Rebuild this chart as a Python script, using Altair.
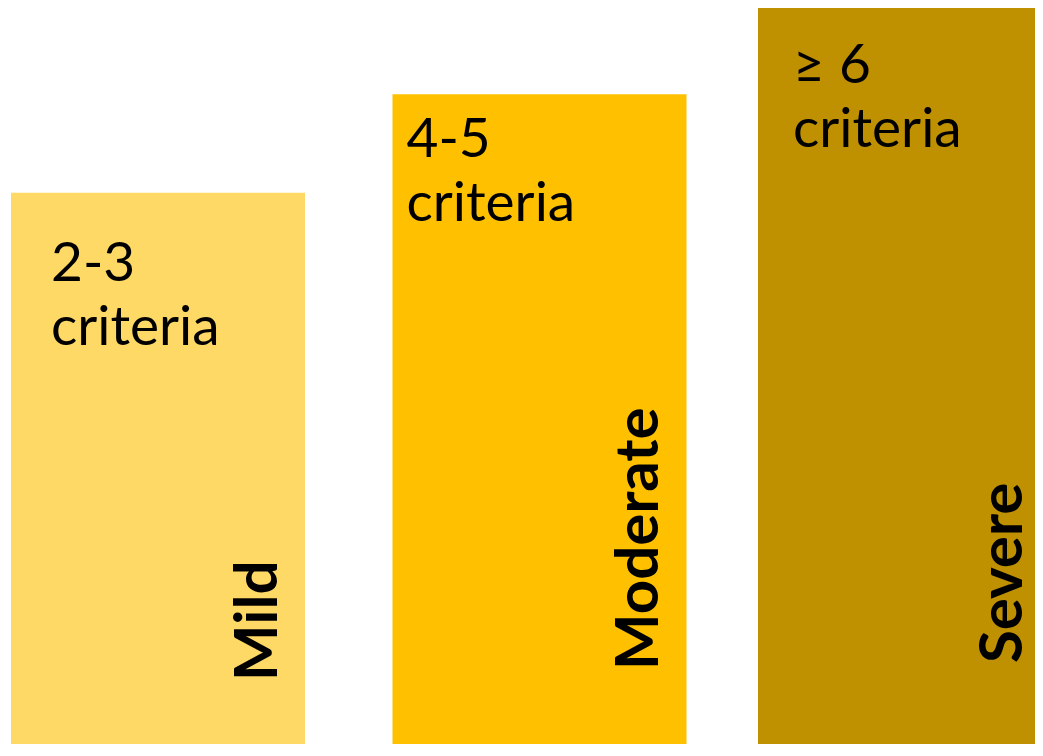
import altair as alt
import pandas as pd

# Data
categories = ["Mild", "Moderate", "Severe"]
values = [6.0, 7.05, 8.0]
criteria_counts = ["2-3", "4-5", "≥ 6"]
criteria_word = "criteria"
colors = ["#FFD966", "#FFC000", "#BF9000"]

df = pd.DataFrame({
    "cat": categories,
    "value": values,
    "label": [c + "\n" + criteria_word for c in criteria_counts],
})

W, H = 1027, 736
FONT = "Lato"

x_scale = alt.Scale(domain=categories, range=[3, 1044], paddingInner=0.2129, paddingOuter=0)
y_scale = alt.Scale(domain=[0, 8], range=[748, -3])
color_scale = alt.Scale(domain=categories, range=colors)

base = alt.Chart(df)

# per-category styling offsets (pixels, styling only)
bar_shift = {"Mild": 0, "Moderate": 8, "Severe": 0}
top_off = {"Mild": (40, 88), "Moderate": (22, 63), "Severe": (35, 78)}
side_off = {"Mild": (75, -28), "Moderate": (86, -20), "Severe": (93, -30)}

layers = []
for cat in categories:
    sub = base.transform_filter(alt.datum.cat == cat)
    layers.append(
        sub.mark_bar(cornerRadius=0, xOffset=bar_shift[cat]).encode(
            x=alt.X("cat:N", scale=x_scale, axis=None, sort=categories),
            y=alt.Y("value:Q", scale=y_scale, axis=None),
            color=alt.Color("cat:N", scale=color_scale, legend=None),
        )
    )
for cat in categories:
    sub = base.transform_filter(alt.datum.cat == cat)
    dx, dy = top_off[cat]
    layers.append(
        sub.mark_text(
            align="left", baseline="alphabetic", font=FONT, fontSize=55,
            lineBreak="\n", lineHeight=64, dx=dx, dy=dy, color="black",
        ).encode(
            x=alt.X("cat:N", scale=x_scale, bandPosition=0, sort=categories),
            y=alt.Y("value:Q", scale=y_scale),
            text="label:N",
        )
    )
    sdx, sdy = side_off[cat]
    layers.append(
        sub.mark_text(
            align="left", baseline="alphabetic", font=FONT, fontSize=60,
            fontWeight="bold", angle=270, dx=sdx, dy=sdy, color="black",
        ).encode(
            x=alt.X("cat:N", scale=x_scale, bandPosition=1, sort=categories),
            y=alt.YDatum(0, scale=y_scale, type="quantitative"),
            text="cat:N",
        )
    )

chart = alt.layer(*layers).properties(
    width=W, height=H, padding=0,
    autosize=alt.AutoSizeParams(type="none"),
    background="white",
).configure_view(strokeWidth=0)

chart.save("out.html", embed_options={"renderer": "svg", "actions": False})
